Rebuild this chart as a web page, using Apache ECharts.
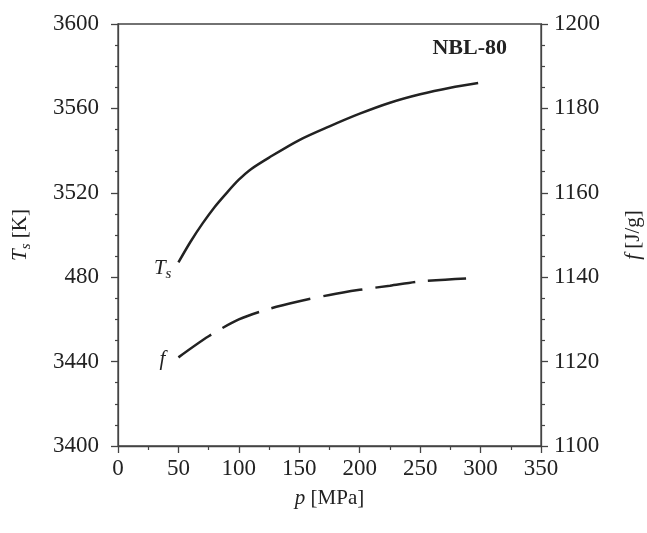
<!DOCTYPE html>
<html><head><meta charset="utf-8">
<script src="https://cdn.jsdelivr.net/npm/echarts@6/dist/echarts.min.js"></script>
<style>html,body{margin:0;padding:0;background:#fff}#c{width:647px;height:533px}</style>
</head><body><div id="c"></div>
<script>
var pTs = [50, 60, 70, 80, 90, 100, 110, 125, 150, 175, 200, 225, 250, 275, 298];
var Ts  = [3487, 3496.8, 3505.5, 3513.3, 3520, 3526.2, 3531.2, 3536.7, 3545, 3551.5, 3557.5, 3562.7, 3566.7, 3569.8, 3572];
var pF  = [50, 75, 100, 125, 150, 175, 200, 225, 250, 288];
var fVals = [1121, 1126, 1130, 1132.5, 1134.3, 1135.8, 1137, 1138, 1139, 1139.7];
var leftTicks = {3400:'3400', 3440:'3440', 3480:'480', 3520:'3520', 3560:'3560', 3600:'3600'};
var FONT = 'Liberation Serif';
var AX = '#444';
var TF = 23;

var chart = echarts.init(document.getElementById('c'));
var tsData = pTs.map(function(p,i){
  var d = {value:[p, Ts[i]]};
  if (i === 0) d.label = {show:true, position:'left', offset:[-2,6], formatter:'{i|T}{s|s}',
    rich:{i:{fontFamily:FONT, fontStyle:'italic', fontSize:21, color:'#222'},
          s:{fontFamily:FONT, fontStyle:'italic', fontSize:15, color:'#222', padding:[12,0,0,0]}}};
  return d;
});
var fData = pF.map(function(p,i){
  var d = {value:[p, fVals[i]]};
  if (i === 0) d.label = {show:true, position:'left', offset:[-8,2], formatter:'{i|f}',
    rich:{i:{fontFamily:FONT, fontStyle:'italic', fontSize:21, color:'#222'}}};
  return d;
});
var axisCommon = {
  axisLine:{show:true, lineStyle:{color:AX, width:1.3}},
  axisTick:{show:true, inside:false, length:7, lineStyle:{color:AX, width:1.3}},
  splitLine:{show:false}, minorSplitLine:{show:false}
};
chart.setOption({
  animation:false,
  grid:{left:118, right:106, top:24, bottom:87, show:true, borderColor:AX, borderWidth:1.3,
        containLabel:false, outerBoundsMode:'none'},
  xAxis:Object.assign({}, axisCommon, {
    type:'value', min:0, max:350, interval:50,
    minorTick:{show:true, splitNumber:2, length:4, lineStyle:{color:AX, width:1.2}},
    axisLabel:{fontFamily:FONT, fontSize:TF, color:'#222', margin:11},
    name:'{i|p} [MPa]', nameLocation:'middle', nameGap:42,
    nameTextStyle:{fontFamily:FONT, fontSize:21, color:'#222', rich:{i:{fontFamily:FONT, fontStyle:'italic', fontSize:21, color:'#222'}}}
  }),
  yAxis:[
    Object.assign({}, axisCommon, {
      type:'value', min:3400, max:3600, interval:40, position:'left',
      minorTick:{show:true, splitNumber:4, length:3, lineStyle:{color:AX, width:1.2}},
      axisLabel:{fontFamily:FONT, fontSize:TF, color:'#222', margin:19, formatter:function(v){return leftTicks[v];}},
      name:'{i|T}{s|s} [K]', nameLocation:'middle', nameGap:84, nameRotate:90,
      nameTextStyle:{fontFamily:FONT, fontSize:21, color:'#222',
        rich:{i:{fontFamily:FONT, fontStyle:'italic', fontSize:21, color:'#222'},
              s:{fontFamily:FONT, fontStyle:'italic', fontSize:15, color:'#222', padding:[12,0,0,0]}}}
    }),
    Object.assign({}, axisCommon, {
      type:'value', min:1100, max:1200, interval:20, position:'right',
      minorTick:{show:true, splitNumber:4, length:4, lineStyle:{color:AX, width:1.2}},
      axisLabel:{fontFamily:FONT, fontSize:TF, color:'#222', margin:13, formatter:function(v){return String(v);}},
      name:'{i|f} [J/g]', nameLocation:'middle', nameGap:82, nameRotate:90,
      nameTextStyle:{fontFamily:FONT, fontSize:21, color:'#222',
        rich:{i:{fontFamily:FONT, fontStyle:'italic', fontSize:21, color:'#222'}}}
    })
  ],
  graphic:[{type:'text', right:140, top:37,
    style:{text:'NBL-80', font:'bold 22px "Liberation Serif"', fill:'#222'}}],
  series:[
    {type:'line', yAxisIndex:0, data:tsData, smooth:0.3, showSymbol:true, symbol:'circle', symbolSize:0,
     lineStyle:{color:'#222', width:2.5}, itemStyle:{color:'#222'}},
    {type:'line', yAxisIndex:1, data:fData, smooth:0.3, showSymbol:true, symbol:'circle', symbolSize:0,
     lineStyle:{color:'#222', width:2.5, type:[40,13]}, itemStyle:{color:'#222'}}
  ]
});
</script></body></html>
